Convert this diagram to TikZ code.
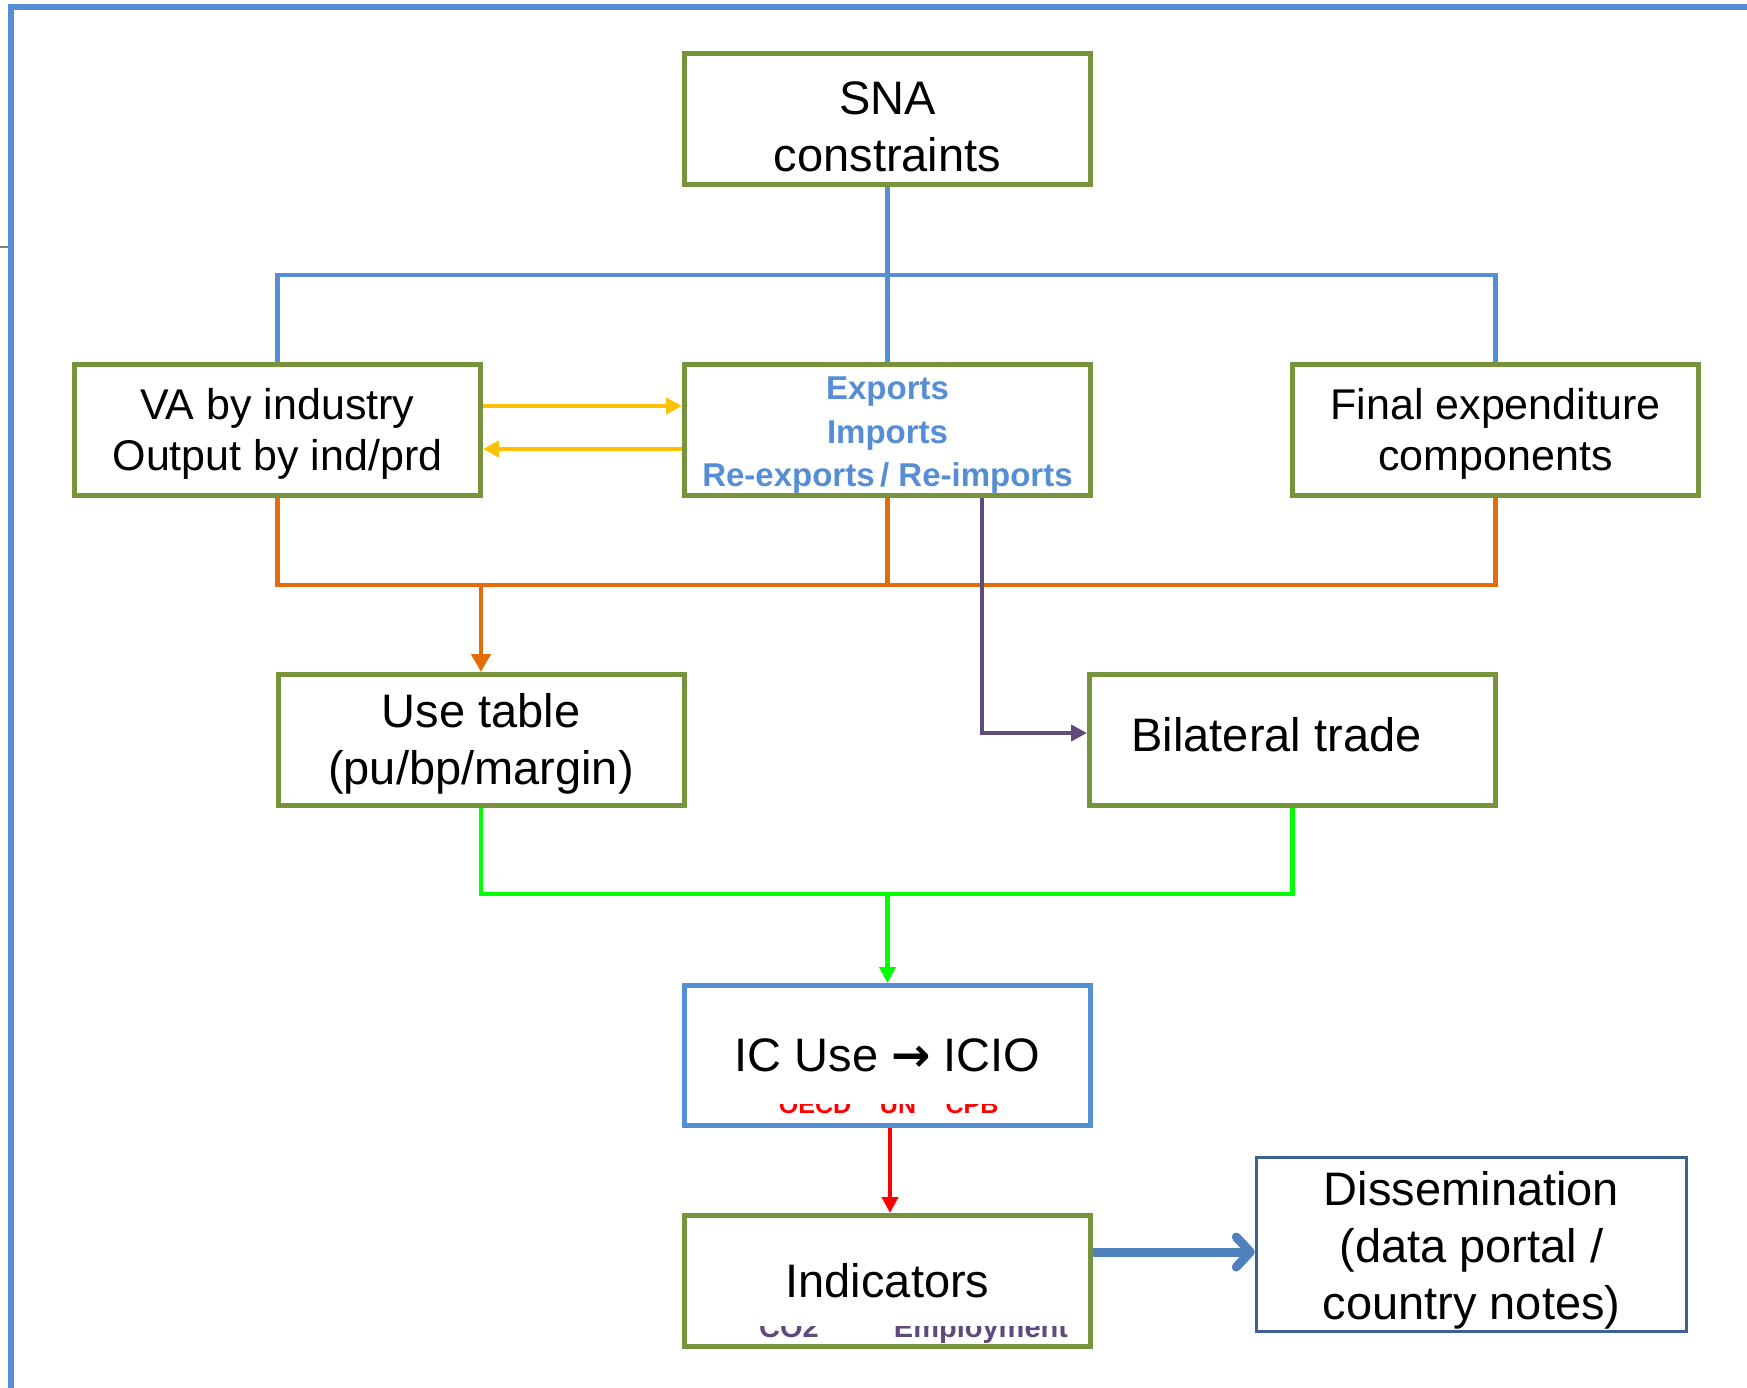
\documentclass[tikz,border=0pt]{standalone}
\usepackage{fontspec}
\setmainfont{Liberation Sans}
\newfontfamily\arrowfont{DejaVu Sans}
\usetikzlibrary{arrows.meta,calc}

\definecolor{boxgreen}{HTML}{77933C}
\definecolor{sky}{HTML}{558ED5}
\definecolor{flowblue}{HTML}{4F81BD}
\definecolor{navyedge}{HTML}{3C6192}
\definecolor{rust}{HTML}{E46C0A}
\definecolor{plum}{HTML}{604A7B}
\definecolor{amber}{HTML}{FFC000}
\definecolor{lime}{HTML}{00FF00}
\definecolor{alert}{HTML}{FF0000}

% invisible struts that lower or raise a text block inside its box
\newcommand\toppad[1]{\rule{0pt}{#1}}
\newcommand\botpad[1]{\rule[-#1]{0pt}{#1}}

\begin{document}
\begin{tikzpicture}[x=1pt,y=-1pt,line join=miter,
  box/.style={draw=boxgreen,line width=5pt,fill=white,minimum width=406pt,
    minimum height=131pt,inner sep=0pt,align=center,text=black},
  bigtxt/.style={font=\fontsize{47}{57}\selectfont},
  midtxt/.style={font=\fontsize{43}{51}\selectfont},
  link/.style={line width=4.5pt},
  tip/.style={-{Triangle[length=16pt,width=16pt]}},
  fragment/.style={font=\bfseries\fontsize{#1}{#1}\selectfont,anchor=base,inner sep=0pt}
]
\useasboundingbox (0,0) rectangle (1747,1388);

% frame along the top and left edges
\draw[sky,line width=6pt] (11,1388) -- (11,7) -- (1747,7);
\draw[gray,line width=1.5pt] (0,247) -- (8,247);

% boxes
\node[box,bigtxt] (sna) at (887.5,119) {\toppad{48pt}SNA\\constraints};
\node[box,midtxt] (va) at (277.5,429.5) {\toppad{40pt}VA by industry\\Output by ind/prd};
\node[box,text=sky,font=\bfseries\fontsize{33}{43.5}\selectfont] (exp) at (887.5,429.5)
  {\toppad{34pt}Exports\\Imports\\Re-exports\,/ Re-imports};
\node[box,midtxt] (fin) at (1495.5,429.5) {\toppad{40pt}Final expenditure\\components};
\node[box,bigtxt] (use) at (481,740) {\toppad{42pt}Use table\\(pu/bp/margin)};
\node[box,bigtxt] (bil) at (1292.5,740) {\hspace*{-32pt}Bilateral trade\botpad{11pt}};
\node[box,bigtxt,draw=sky,minimum height=140pt] (ic) at (887.5,1055.5)
  {IC Use {\arrowfont\bfseries →} ICIO};
\node[box,bigtxt] (ind) at (887.5,1281) {Indicators};
\node[box,bigtxt,draw=navyedge,line width=3.5pt,minimum width=430pt,
  minimum height=174pt] (dis) at (1471.5,1244.5)
  {\toppad{45pt}Dissemination\\(data portal /\\country notes)};

% partly covered source labels
\begin{scope}
  \clip (700,1104) rectangle (1080,1123);
  \node[fragment=25,text=alert] (srcA) at (815,1113) {OECD};
  \node[fragment=25,text=alert] (srcB) at (898,1113) {UN};
  \node[fragment=25,text=alert] (srcC) at (972,1113) {CPB};
\end{scope}
\begin{scope}
  \clip (700,1326) rectangle (1080,1344);
  \node[fragment=29,text=plum] (indA) at (789,1337) {CO2};
  \node[fragment=29,text=plum] (indB) at (981,1337) {Employment};
\end{scope}

% bus coordinates
\coordinate (topbus) at (0,275);
\coordinate (midbus) at (0,585);
\coordinate (lowbus) at (0,894);
\coordinate (tradeturn) at (982,733);
\coordinate (ya) at (0,406);
\coordinate (yb) at (0,449);
\coordinate (redx) at (890,0);
\coordinate (outy) at (0,1252);

% SNA constraints feed the three source boxes
\draw[sky,link] (va.north) -- (va.north |- topbus) -- (fin.north |- topbus) -- (fin.north);
\draw[sky,link] (sna.south) -- (exp.north);

% source boxes merge into the use table
\draw[rust,link] (va.south) -- (va.south |- midbus) -- (fin.south |- midbus) -- (fin.south);
\draw[rust,link] (exp.south) -- (exp.south |- midbus);
\draw[rust,link,-{Triangle[length=18pt,width=19pt]}] (use.north |- midbus) -- (use.north);

% trade flows to bilateral trade
\draw[plum,link,tip] (exp.south -| tradeturn) -- (tradeturn) -- (tradeturn -| bil.west);

% exchange between VA and trade
\draw[amber,link,tip] (va.east |- ya) -- (exp.west |- ya);
\draw[amber,link,tip] (exp.west |- yb) -- (va.east |- yb);

% use table and bilateral trade combine into ICIO
\draw[lime,link] (use.south) -- (use.south |- lowbus) -- (bil.south |- lowbus) -- (bil.south);
\draw[lime,link,tip] (ic.north |- lowbus) -- (ic.north);

% ICIO to indicators
\draw[alert,link,tip] (ic.south -| redx) -- (ind.north -| redx);

% indicators to dissemination
\draw[flowblue,line width=9pt,-{Straight Barb[length=14pt,width=30pt,round]}]
  (ind.east |- outy) -- (dis.west |- outy);
\end{tikzpicture}
\end{document}
